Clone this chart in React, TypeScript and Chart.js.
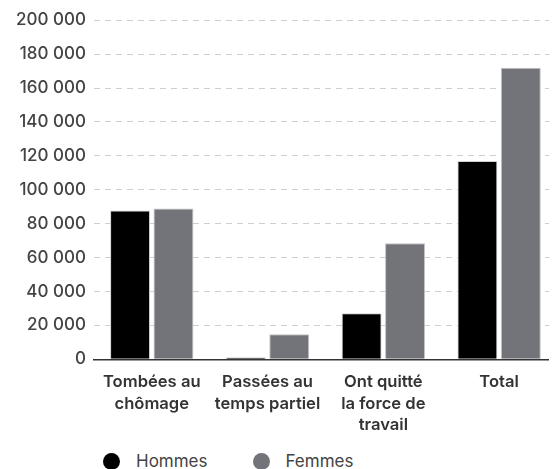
import React, { useEffect, useRef } from "react";
import { Chart, registerables } from "chart.js";

Chart.register(...registerables);

const categories: string[][] = [
  ["Tombées au", "chômage"],
  ["Passées au", "temps partiel"],
  ["Ont quitté", "la force de", "travail"],
  ["Total"],
];
const seriesNames = ["Hommes", "Femmes"];
const hommes = [87700, 1200, 27200, 116900];
const femmes = [89000, 14700, 68400, 172000];
const colors = ["#000000", "#727479"];
const borderColors = ["#d0d0d0", "#c2c2c2"];
const yMax = 200000;
const yStep = 20000;

const fmt = (v: number) => {
  const s = Math.round(v).toString();
  return s.replace(/\B(?=(\d{3})+(?!\d))/g, " ");
};

export default function App() {
  const ref = useRef<HTMLCanvasElement | null>(null);
  useEffect(() => {
    if (!ref.current) return;
    const chart = new Chart(ref.current, {
      type: "bar",
      data: {
        labels: categories,
        datasets: [hommes, femmes].map((d, i) => ({
          label: seriesNames[i],
          data: d,
          backgroundColor: colors[i],
          borderColor: borderColors[i],
          borderWidth: 1,
          barPercentage: 0.92,
          categoryPercentage: 0.75,
        })),
      },
      options: {
        animation: false,
        responsive: false,
        maintainAspectRatio: false,
        layout: { padding: { top: 2, left: 0, right: 0, bottom: 0 } },
        plugins: { legend: { display: false }, tooltip: { enabled: false } },
        scales: {
          x: {
            grid: { display: false, drawTicks: false },
            border: { display: true, color: "#333", width: 1.5 },
            ticks: {
              color: "#333",
              padding: 12,
              font: { family: "Inter", size: 16.6, weight: 600, lineHeight: 1.3 },
              maxRotation: 0,
              autoSkip: false,
            },
          },
          y: {
            min: 0,
            max: yMax,
            grid: { color: "#cfcfcf", drawTicks: false, lineWidth: 1 },
            border: { display: false, dash: [6, 5] },
            ticks: {
              stepSize: yStep,
              color: "#444",
              padding: 8,
              font: { family: "Inter", size: 17, weight: 500 },
              callback: (v: any) => fmt(Number(v)),
            },
          },
        },
      },
    });
    return () => chart.destroy();
  }, []);

  return (
    <div style={{ width: 549, fontFamily: "Inter" }}>
      <canvas ref={ref} width={549} height={446} style={{ display: "block", marginTop: -6 }} />
      <div style={{ display: "flex", alignItems: "center", height: 20, marginTop: 3, paddingLeft: 95 }}>
        {seriesNames.map((n, i) => (
          <div key={n} style={{ display: "flex", alignItems: "center", marginRight: i === 0 ? 45 : 0 }}>
            <span style={{ width: 17, height: 17, borderRadius: "50%", background: colors[i], display: "inline-block" }} />
            <span style={{ marginLeft: 16, fontSize: 17, color: "#444" }}>{n}</span>
          </div>
        ))}
      </div>
    </div>
  );
}
